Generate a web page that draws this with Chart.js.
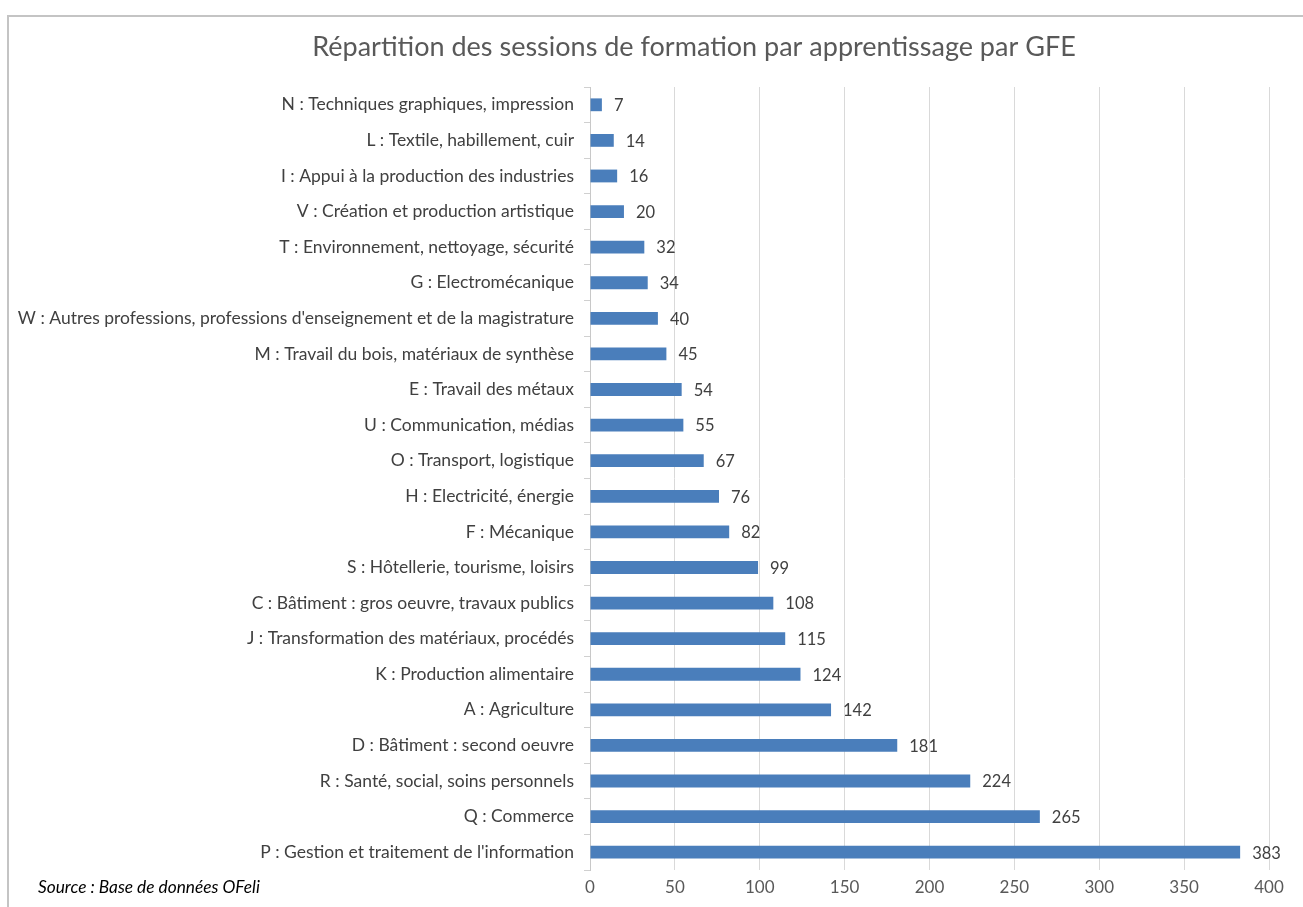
<!DOCTYPE html>
<html lang="fr">
<head>
<meta charset="utf-8">
<title>Répartition des sessions de formation par apprentissage par GFE</title>
<script src="https://cdn.jsdelivr.net/npm/chart.js@4.4.1/dist/chart.umd.min.js"></script>
<style>
  html, body { margin: 0; padding: 0; background: #ffffff; }
  #wrap { position: relative; width: 1303px; height: 907px; overflow: hidden; }
  #frame {
    position: absolute; left: 7px; top: 15px; width: 1400px; height: 1000px;
    border-left: 2px solid #c4c4c4; border-top: 2px solid #c4c4c4;
  }
  #source {
    position: absolute; left: 38px; top: 876px;
    font-family: Lato, "Liberation Sans", sans-serif; font-style: italic;
    font-size: 17.3px; color: #000000;
  }
  canvas { position: absolute; left: 0; top: 0; }
</style>
</head>
<body>
<div id="wrap">
  <div id="frame"></div>
  <canvas id="gfeChart" width="1303" height="907"></canvas>
  <div id="source">Source : Base de données OFeli</div>
</div>
<script>
// Chart title
const chartTitle = "Répartition des sessions de formation par apprentissage par GFE";

// Categories, top to bottom as in the picture
const categories = [
    "N : Techniques graphiques, impression",
    "L : Textile, habillement, cuir",
    "I : Appui à la production des industries",
    "V : Création et production artistique",
    "T : Environnement, nettoyage, sécurité",
    "G : Electromécanique",
    "W : Autres professions, professions d'enseignement et de la magistrature",
    "M : Travail du bois, matériaux de synthèse",
    "E : Travail des métaux",
    "U : Communication, médias",
    "O : Transport, logistique",
    "H : Electricité, énergie",
    "F : Mécanique",
    "S : Hôtellerie, tourisme, loisirs",
    "C : Bâtiment : gros oeuvre, travaux publics",
    "J : Transformation des matériaux, procédés",
    "K : Production alimentaire",
    "A : Agriculture",
    "D : Bâtiment : second oeuvre",
    "R : Santé, social, soins personnels",
    "Q : Commerce",
    "P : Gestion et traitement de l'information"
];

// Number of sessions per GFE
const sessions = [7, 14, 16, 20, 32, 34, 40, 45, 54, 55, 67, 76, 82, 99, 108, 115, 124, 142, 181, 224, 265, 383];

// x axis range
const xMin = 0;
const xMax = 400;
const xStep = 50;

const fontFamily = "Lato, 'Liberation Sans', sans-serif";

// Value labels at the end of each bar
const barValueLabels = {
    id: 'barValueLabels',
    afterDatasetsDraw(chart) {
        const ctx = chart.ctx;
        const meta = chart.getDatasetMeta(0);
        ctx.save();
        ctx.font = "16.5px " + fontFamily;
        ctx.fillStyle = "#404040";
        ctx.textAlign = "left";
        ctx.textBaseline = "middle";
        meta.data.forEach((bar, i) => {
            ctx.fillText(String(sessions[i]), bar.x + 12, bar.y + 1);
        });
        ctx.restore();
    }
};

// Title, centred on the original (wider) Excel chart frame
const chartHeading = {
    id: 'chartHeading',
    afterDraw(chart) {
        const ctx = chart.ctx;
        ctx.save();
        ctx.font = "27px " + fontFamily;
        ctx.fillStyle = "#595959";
        ctx.textAlign = "center";
        ctx.textBaseline = "middle";
        ctx.fillText(chartTitle, 694, 47);
        ctx.restore();
    }
};

const ctx = document.getElementById('gfeChart').getContext('2d');
const gfeChart = new Chart(ctx, {
    type: 'bar',
    data: {
        labels: categories,
        datasets: [{
            data: sessions,
            backgroundColor: "#4a7ebb",
            borderWidth: 0,
            categoryPercentage: 1,
            barPercentage: 0.36
        }]
    },
    options: {
        indexAxis: 'y',
        responsive: false,
        animation: false,
        layout: {
            padding: { left: 0, right: 34, top: 87, bottom: 0 }
        },
        plugins: {
            legend: { display: false },
            tooltip: { enabled: false },
            title: { display: false }
        },
        scales: {
            x: {
                min: xMin,
                max: xMax,
                ticks: {
                    stepSize: xStep,
                    color: "#595959",
                    font: { family: fontFamily, size: 17 },
                    padding: 7
                },
                grid: {
                    color: "#d9d9d9",
                    lineWidth: 1,
                    drawTicks: false
                },
                border: { display: false },
                afterFit(scale) { scale.height = 37; }
            },
            y: {
                ticks: {
                    color: "#404040",
                    font: { family: fontFamily, size: 17.5 },
                    padding: 10,
                    autoSkip: false
                },
                grid: {
                    offset: true,
                    drawOnChartArea: false,
                    color: "#d0d0d0",
                    tickLength: 6
                },
                border: { display: true, color: "#c8c8c8", width: 1 },
                afterFit(scale) { scale.width = 590; }
            }
        }
    },
    plugins: [barValueLabels, chartHeading]
});
</script>
</body>
</html>
